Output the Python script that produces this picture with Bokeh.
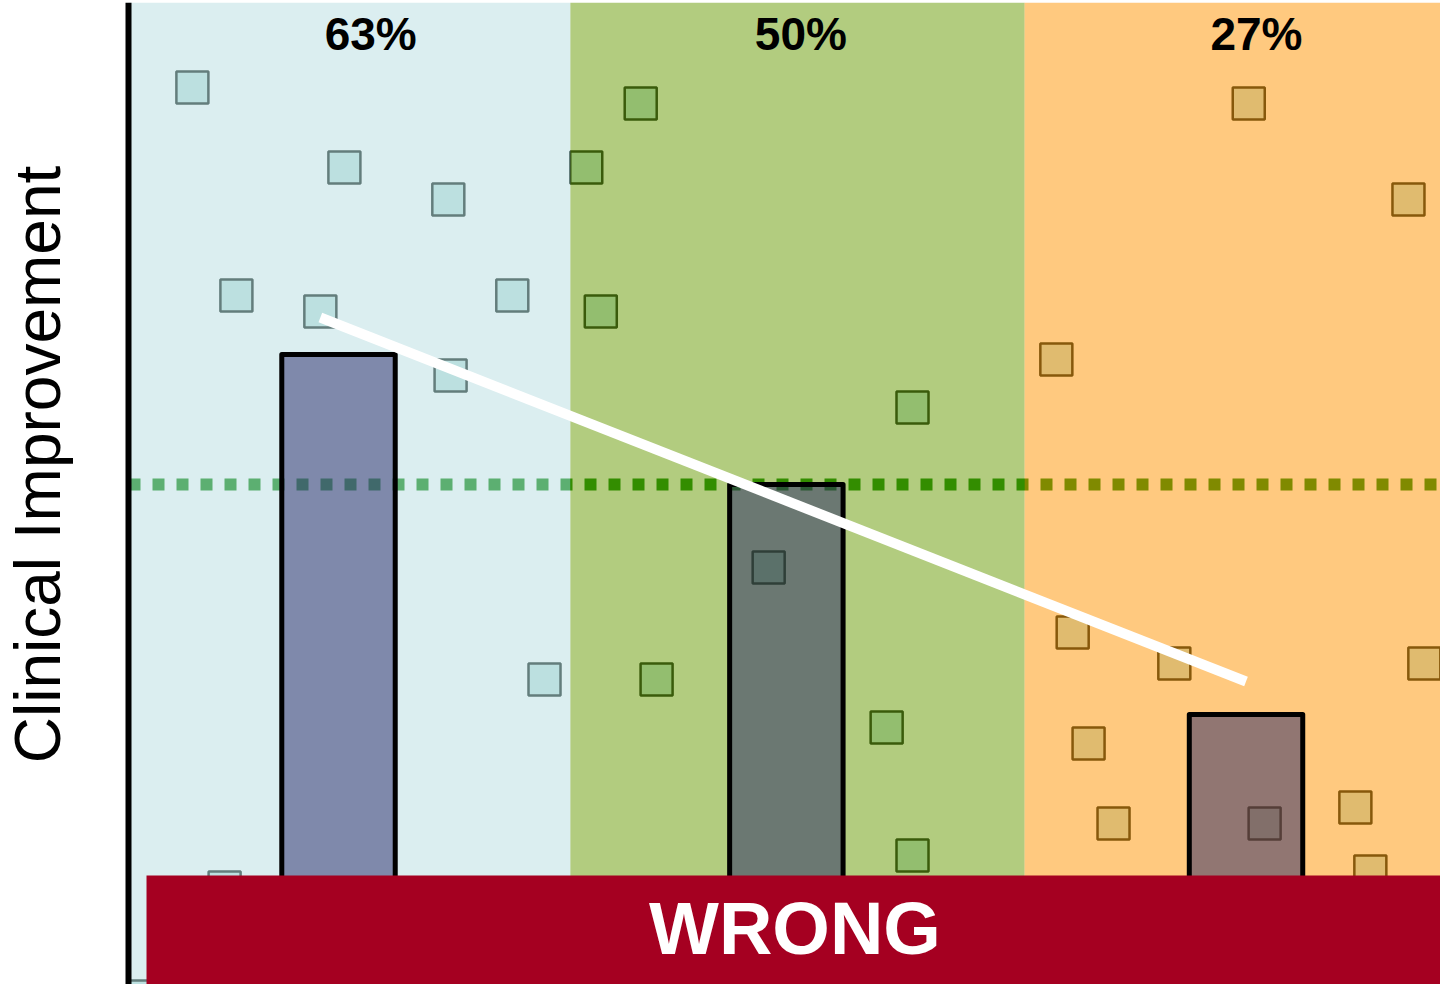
import math

from bokeh.core.properties import value
from bokeh.embed import file_html
from bokeh.models import BoxAnnotation, Label, Range1d, Span
from bokeh.plotting import figure
from bokeh.resources import INLINE

# ---- data -------------------------------------------------------------
# share of patients with clinical improvement, one bar per group
group_x = [1.0, 1.987, 3.0]
improvement_pct = [63, 50, 27]
pct_labels = ["63%", "50%", "27%"]

# individual patients (position within the group band, improvement score)
blue_pts_x = [0.678, 1.013, 1.242, 0.775, 0.960, 1.383, 1.247, 1.454, 0.749, 0.575]
blue_pts_y = [89.7, 81.7, 78.5, 68.9, 67.3, 68.9, 60.9, 30.5, 9.7, -1.2]

green_pts_x = [1.666, 1.546, 1.578, 2.265, 1.948, 1.701, 2.208, 2.265]
green_pts_y = [88.1, 81.7, 67.3, 57.7, 41.7, 30.5, 25.7, 12.9]

orange_pts_x = [3.006, 3.358, 2.582, 2.618, 2.842, 3.393, 2.653, 2.708, 3.041, 3.241, 3.274]
orange_pts_y = [88.1, 78.5, 62.5, 35.2, 32.1, 32.1, 24.1, 16.1, 16.1, 17.7, 11.3]

# dotted reference level and the (misleading) trend across groups
reference_level = 50
trend_x = [0.96, 3.0]
trend_y = [66.7, 30.3]

# ---- layout -----------------------------------------------------------
X_START, X_END = 0.2551, 3.4286
Y_START, Y_END = 0.0, 98.2
AXIS_X = 0.5372  # where the vertical axis line stands

band_left = [AXIS_X, 1.511, 2.512]
band_right = [1.511, 2.512, 3.50]
band_colors = ["#b7dde1", "#669900", "#ff9400"]

label_x = [1.071, 2.019, 3.023]
label_y = [95.1, 95.1, 95.1]

FONT = "Liberation Sans"

p = figure(
    width=1440,
    height=984,
    x_range=Range1d(X_START, X_END),
    y_range=Range1d(Y_START, Y_END),
    x_axis_location=None,
    y_axis_location=None,
    toolbar_location=None,
    output_backend="svg",
    min_border_left=0,
    min_border_right=0,
    min_border_top=2,
    min_border_bottom=0,
)
p.outline_line_color = None
p.background_fill_color = "white"
p.border_fill_color = "white"
p.grid.visible = False

# dotted reference line sits underneath the translucent bands
p.line([AXIS_X, X_END], [reference_level, reference_level], line_color="#008000",
       line_width=12, line_dash="12 12")

# patient markers
square_style = dict(marker="square", size=32, fill_color="#c0e3df",
                    line_color="#0e1c16", line_width=2.5)
p.scatter(blue_pts_x, blue_pts_y, **square_style)
p.scatter(green_pts_x, green_pts_y, **square_style)
p.scatter(orange_pts_x, orange_pts_y, **square_style)

# group bands
p.quad(left=band_left, right=band_right, bottom=Y_START, top=Y_END,
       fill_color=band_colors, fill_alpha=0.5, line_color=None)

# group bars
p.vbar(x=group_x, top=improvement_pct, bottom=0, width=0.25,
       fill_color="#232366", fill_alpha=0.5, line_color="black",
       line_width=5, line_join="round")

# trend line
p.line(trend_x, trend_y, line_color="white", line_width=10)

# percentage labels
p.text(x=label_x, y=label_y, text=pct_labels, text_font=value(FONT),
       text_font_style="bold", text_font_size="46px", text_color="black",
       text_align="center", text_baseline="alphabetic")

# vertical axis line and its title
p.add_layout(Span(location=AXIS_X, dimension="height", line_color="black",
                  line_width=6))
p.add_layout(Label(x=0.3367, y=52.0, angle=math.pi / 2, text="Clinical Improvement",
                   text_font=FONT, text_font_size="64px", text_color="black",
                   text_align="center", text_baseline="alphabetic"))

# verdict banner
p.add_layout(BoxAnnotation(left=0.5769, top=10.9, fill_color="#a50021",
                           fill_alpha=1.0, line_color=None, level="overlay"))
p.add_layout(Label(x=2.006, y=5.6, text="WRONG", text_font=FONT,
                   text_font_style="bold", text_font_size="74px",
                   text_color="white", text_align="center",
                   text_baseline="alphabetic", level="overlay"))

open("out.html", "w").write(file_html(p, INLINE))
